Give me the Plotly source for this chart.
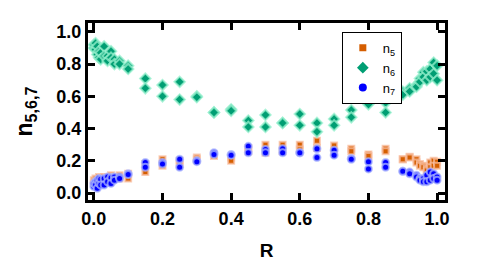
import plotly.graph_objects as go

R = [0, 0, 0.005, 0.005, 0.01, 0.01, 0.015, 0.015, 0.02, 0.02, 0.03, 0.03,
     0.04, 0.04, 0.05, 0.05, 0.06, 0.06, 0.075, 0.075, 0.1, 0.1, 0.15, 0.15,
     0.2, 0.2, 0.25, 0.25, 0.3, 0.3, 0.35, 0.35, 0.4, 0.4, 0.45, 0.45,
     0.5, 0.5, 0.55, 0.55, 0.6, 0.6, 0.65, 0.65, 0.7, 0.7, 0.75, 0.75,
     0.8, 0.8, 0.85, 0.85, 0.9, 0.9, 0.92, 0.92, 0.94, 0.94, 0.95, 0.95,
     0.96, 0.96, 0.97, 0.97, 0.98, 0.98, 0.99, 0.99, 1.0, 1.0]

n5 = [0.06, 0.08, 0.07, 0.09, 0.08, 0.06, 0.10, 0.07, 0.09, 0.08, 0.10, 0.08,
      0.10, 0.09, 0.11, 0.09, 0.10, 0.10, 0.11, 0.09, 0.12, 0.09, 0.18, 0.13,
      0.21, 0.17, 0.20, 0.18, 0.22, 0.21, 0.24, 0.23, 0.22, 0.20, 0.28, 0.26,
      0.30, 0.25, 0.30, 0.26, 0.30, 0.27, 0.325, 0.28, 0.295, 0.26, 0.275, 0.26,
      0.24, 0.23, 0.275, 0.26, 0.21, 0.21, 0.225, 0.22, 0.21, 0.19, 0.18, 0.17,
      0.17, 0.16, 0.15, 0.14, 0.19, 0.16, 0.20, 0.17, 0.195, 0.17]

n6 = [0.90, 0.92, 0.93, 0.89, 0.91, 0.86, 0.88, 0.84, 0.87, 0.83, 0.91, 0.85,
      0.85, 0.82, 0.88, 0.84, 0.83, 0.80, 0.82, 0.80, 0.79, 0.77, 0.71, 0.65,
      0.67, 0.60, 0.69, 0.58, 0.60, 0.595, 0.50, 0.50, 0.52, 0.51, 0.45, 0.41,
      0.485, 0.41, 0.435, 0.435, 0.49, 0.42, 0.435, 0.38, 0.46, 0.42, 0.515, 0.47,
      0.60, 0.55, 0.56, 0.50, 0.63, 0.61, 0.65, 0.63, 0.67, 0.66, 0.71, 0.69,
      0.75, 0.72, 0.755, 0.70, 0.77, 0.72, 0.81, 0.74, 0.79, 0.70]

n7 = [0.04, 0.06, 0.07, 0.05, 0.08, 0.03, 0.09, 0.06, 0.085, 0.05, 0.09, 0.05,
      0.10, 0.07, 0.095, 0.06, 0.10, 0.08, 0.10, 0.09, 0.12, 0.115, 0.19, 0.16,
      0.19, 0.18, 0.21, 0.16, 0.20, 0.195, 0.25, 0.24, 0.24, 0.235, 0.29, 0.25,
      0.27, 0.25, 0.275, 0.25, 0.25, 0.25, 0.275, 0.22, 0.265, 0.235, 0.215, 0.21,
      0.195, 0.15, 0.19, 0.16, 0.135, 0.135, 0.13, 0.12, 0.11, 0.10, 0.09, 0.08,
      0.09, 0.07, 0.11, 0.07, 0.13, 0.08, 0.12, 0.09, 0.10, 0.08]

x_ticks = [0.0, 0.2, 0.4, 0.6, 0.8, 1.0]
y_ticks = [0.0, 0.2, 0.4, 0.6, 0.8, 1.0]

series = [
    ("n<sub>5</sub>", n5, "square", 6, "#D55E00", "rgba(248,190,160,0.75)"),
    ("n<sub>6</sub>", n6, "diamond", 8, "#009E73", "rgba(150,240,205,0.75)"),
    ("n<sub>7</sub>", n7, "circle", 7, "#0000FF", "rgba(170,180,255,0.75)"),
]

fig = go.Figure()
for name, vals, sym, size, col, halo in series:
    fig.add_trace(go.Scatter(
        x=R, y=vals, mode="markers", name=name, showlegend=False,
        marker=dict(symbol=sym, size=size, color=col,
                    line=dict(color=halo, width=2)),
    ))
for name, vals, sym, size, col, halo in series:
    fig.add_trace(go.Scatter(
        x=[None], y=[None], mode="markers", name=name,
        marker=dict(symbol=sym, size=size + 1, color=col, line=dict(width=0)),
    ))

axis_common = dict(
    showline=True, linewidth=3, linecolor="black", mirror="ticks",
    ticks="inside", ticklen=7, tickwidth=3, tickcolor="black",
    showgrid=False, zeroline=False,
    tickfont=dict(family="Liberation Sans", size=18, color="black", weight="bold"),
    tickformat=".1f",
)

fig.update_layout(
    width=483, height=263,
    margin=dict(l=80, r=46, t=15, b=69),
    paper_bgcolor="white", plot_bgcolor="white",
    font=dict(family="Liberation Sans", color="black"),
    xaxis=dict(range=[-0.017, 1.023], tickvals=x_ticks,
               title=dict(text="R", font=dict(size=19, weight="bold"), standoff=17),
               **axis_common),
    yaxis=dict(range=[-0.043, 1.055], tickvals=y_ticks,
               title=dict(text="n<sub>5,6,7</sub>", font=dict(size=23, weight="bold"), standoff=18),
               **axis_common),
    legend=dict(x=0.711, y=0.95, xanchor="left", yanchor="top",
                bgcolor="white", bordercolor="black", borderwidth=1,
                font=dict(family="Liberation Sans", size=13, color="black"),
                tracegroupgap=0),
)

fig.write_html("out.html")
